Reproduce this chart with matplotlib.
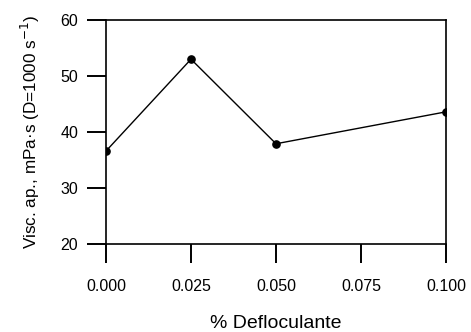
import matplotlib
matplotlib.use("Agg")
import matplotlib.pyplot as plt

plt.rcParams['font.family'] = ['Liberation Sans', 'DejaVu Sans']

deflocculant = [0.000, 0.025, 0.050, 0.100]
viscosity = [36.6, 53.0, 37.9, 43.6]
xticks = [0.000, 0.025, 0.050, 0.075, 0.100]
xticklabels = ["0.000", "0.025", "0.050", "0.075", "0.100"]
yticks = [20, 30, 40, 50, 60]

fig = plt.figure(figsize=(4.71, 3.32), dpi=100)
ax = fig.add_axes([106/471, 1-244/332, 340/471, 224/332])
ax.plot(deflocculant, viscosity, color='black', lw=1.0, marker='o', ms=5.2)
ax.set_xlim(0, 0.1)
ax.set_ylim(20, 60)
ax.set_xticks(xticks)
ax.set_xticklabels(xticklabels)
ax.set_yticks(yticks)
ax.tick_params(direction='out', length=14, width=1.4, labelsize=11.5)
ax.tick_params(axis='x', pad=11)
ax.tick_params(axis='y', pad=6)
for s in ax.spines.values():
    s.set_linewidth(1.2)
ax.set_xlabel('% Defloculante', fontsize=14, labelpad=15)
ax.set_ylabel('Visc. ap., mPa·s (D=1000 s$^{-1}$)', fontsize=12.3, labelpad=13)
fig.savefig('out.png', dpi=100)
